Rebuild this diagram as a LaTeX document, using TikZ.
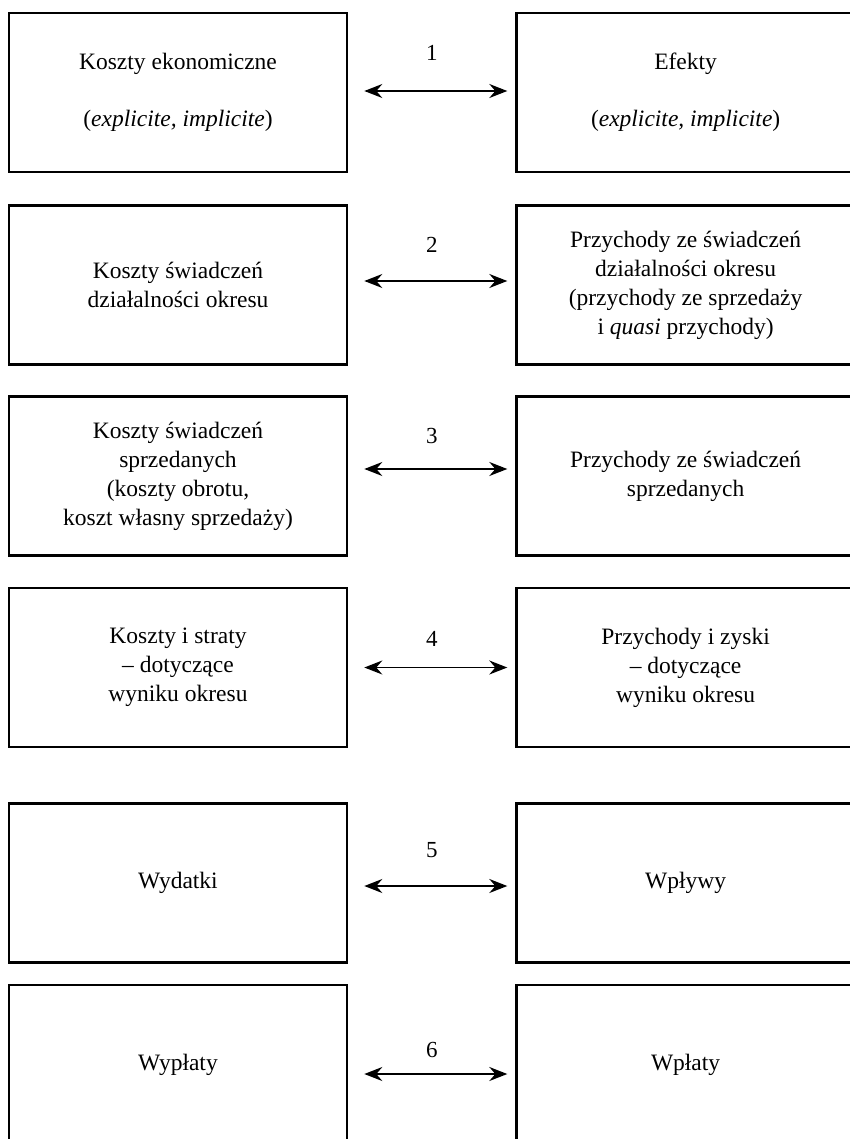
\documentclass[tikz,border=0pt]{standalone}
\usepackage{fontspec}
\setmainfont{Liberation Serif}
\usetikzlibrary{arrows.meta,positioning}

\begin{document}
\begin{tikzpicture}[x=1pt,y=-1pt,node distance=0pt and 167pt,
 every node/.style={font=\fontsize{23.5}{29}\selectfont},
 box/.style={draw,line width=2.6pt,minimum width=338pt,minimum height=159pt,align=center,inner sep=0pt},
 arr/.style={{Stealth[length=18pt,width=14pt,inset=6pt]}-{Stealth[length=18pt,width=14pt,inset=6pt]},line width=1.8pt,shorten <=16pt,shorten >=8pt},
 num/.style={font=\fontsize{23}{24}\selectfont}]
\useasboundingbox (0,0) rectangle (850,1139);
\clip (0,0) rectangle (850,1139);
\node[box] (kek) at (178,92.5) {Koszty ekonomiczne\\[28pt](\textit{explicite, implicite})};
\node[box,right=of kek] (efk) {Efekty\\[28pt](\textit{explicite, implicite})};
\node[box] (ksd) at (178,285) {Koszty świadczeń\\działalności okresu};
\node[box,right=of ksd] (psd) {Przychody ze świadczeń\\działalności okresu\\(przychody ze sprzedaży\\i \textit{quasi} przychody)};
\node[box] (kss) at (178,476) {Koszty świadczeń\\sprzedanych\\(koszty obrotu,\\koszt własny sprzedaży)};
\node[box,right=of kss] (pss) {Przychody ze świadczeń\\sprzedanych};
\node[box] (kis) at (178,667.5) {Koszty i straty\\– dotyczące\\wyniku okresu};
\node[box,right=of kis] (piz) {Przychody i zyski\\– dotyczące\\wyniku okresu};
\node[box] (wyd) at (178,883) {Wydatki};
\node[box,right=of wyd] (wpw) {Wpływy};
\node[box] (wyp) at (178,1064.5) {Wypłaty};
\node[box,right=of wyp] (wpl) {Wpłaty};
\draw[arr] ([yshift=1.5pt]kek.east) -- node[num,yshift=38pt] (n1) {1} ([yshift=1.5pt]efk.west);
\draw[arr] ([yshift=4pt]ksd.east) -- node[num,yshift=36pt] (n2) {2} ([yshift=4pt]psd.west);
\draw[arr] ([yshift=7pt]kss.east) -- node[num,yshift=33pt] (n3) {3} ([yshift=7pt]pss.west);
\draw[arr] (kis.east) -- node[num,yshift=29pt] (n4) {4} (piz.west);
\draw[arr] ([yshift=-3pt]wyd.east) -- node[num,yshift=36pt] (n5) {5} ([yshift=-3pt]wpw.west);
\draw[arr] ([yshift=-9.5pt]wyp.east) -- node[num,yshift=24pt] (n6) {6} ([yshift=-9.5pt]wpl.west);
\end{tikzpicture}
\end{document}
